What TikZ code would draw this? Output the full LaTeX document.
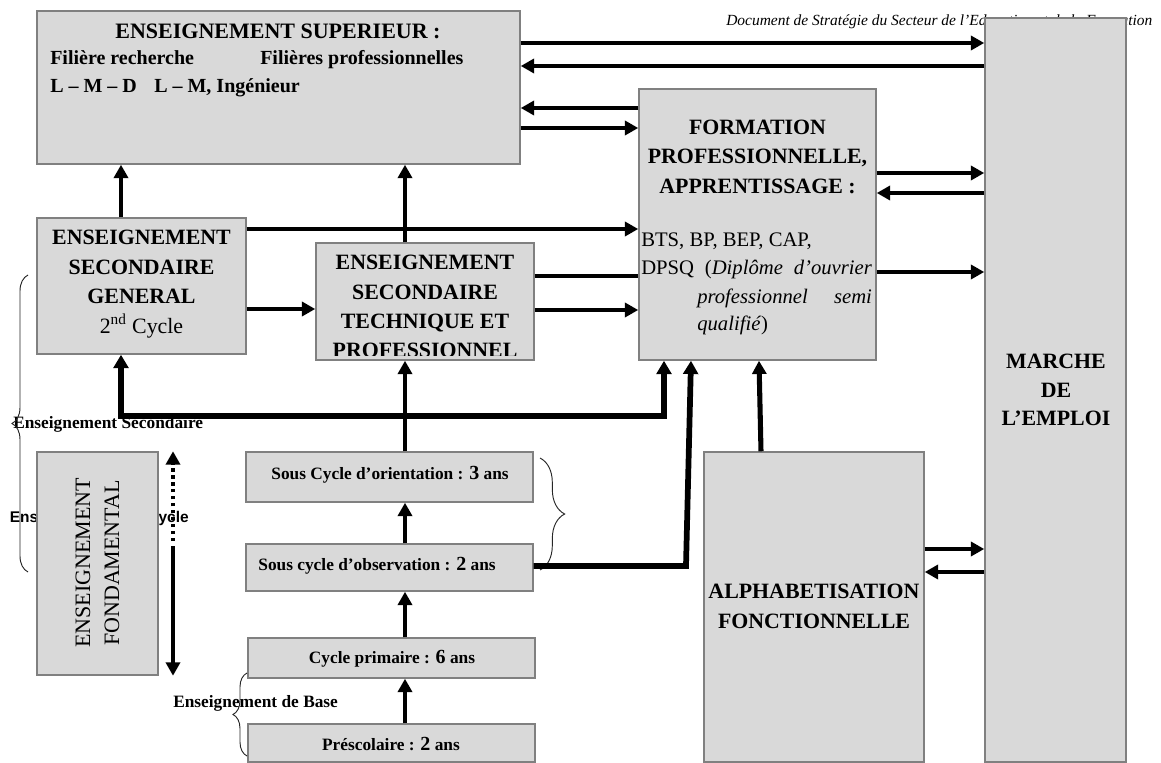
\documentclass[tikz,border=0pt]{standalone}
\usepackage{fontspec}
\setmainfont{Liberation Serif}
\newfontfamily\sansfam{Liberation Sans}
\usetikzlibrary{arrows.meta,fit,decorations.pathreplacing}
\definecolor{boxfill}{HTML}{D9D9D9}
\definecolor{boxline}{HTML}{808080}
\newcommand\fHead{\fontsize{16.4}{20}\selectfont\bfseries}
\newcommand\fSub{\fontsize{15}{18}\selectfont\bfseries}
\newcommand\fReg{\fontsize{15.5}{18}\selectfont}
\newcommand\fSmall{\fontsize{13}{16}\selectfont\bfseries}
\newcommand\dig[1]{{\fontsize{15}{18}\selectfont #1}}
\begin{document}
\begin{tikzpicture}[x=0.75pt,y=-0.75pt,
  box/.style={draw=boxline,fill=boxfill,line width=1.1pt,inner sep=0pt},
  arr/.style={line width=3.3pt,-{Triangle[length=10pt,width=10.5pt]}},
  bigarr/.style={line width=4.3pt,-{Triangle[length=10pt,width=11pt]}},
  plainline/.style={line width=3.3pt},
  brc/.style={decorate,draw=black!85,line width=0.7pt},
  lbl/.style={inner sep=0pt,anchor=base},
  lblw/.style={inner sep=0pt,anchor=base west}]
\useasboundingbox (0,0) rectangle (1161,763);

% header (partly hidden by the box)
\node[lblw,font=\fontsize{11.6}{14}\selectfont\itshape] (hdr) at (726,26)
  {Document de Stratégie du Secteur de l’Education et de la Formation};

% hidden label behind the fondamental box
\node[inner sep=0pt,anchor=base east,font=\fontsize{11.6}{14}\selectfont\sansfam\bfseries] (cyc) at (189,522) {Enseignement 1er Cycle};

% boxes
\node[box,fit={(985,18)(1126,762)}] (marche) {};
\node[box,fit={(37,11)(520,164)}] (es) {};
\node[box,fit={(639,89)(876,360)}] (form) {};
\node[box,fit={(37,218)(246,354)}] (esg) {};
\node[box,fit={(316,243)(534,360)}] (estp) {};
\node[box,fit={(37,452)(158,675)}] (fond) {};
\node[box,fit={(246,452)(533,502)}] (orient) {};
\node[box,fit={(246,544)(533,591)}] (obs) {};
\node[box,fit={(248,638)(535,678)}] (prim) {};
\node[box,fit={(248,724)(535,762)}] (presc) {};
\node[box,fit={(704,452)(924,762)}] (alpha) {};

% texts: enseignement superieur
\node[lbl,font=\fontsize{16.5}{20}\selectfont\bfseries] (es1) at (278,39) {ENSEIGNEMENT SUPERIEUR :};
\node[lblw,font=\fSub] (es2) at (50,65) {Filière recherche};
\node[lblw,font=\fSub] (es3) at (260,65) {Filières professionnelles};
\node[lblw,font=\fSub] (es4) at (50,93) {L – M – D};
\node[lblw,font=\fSub] (es5) at (154,93) {L – M, Ingénieur};

% secondaire general
\node[lbl,font=\fHead] (g1) at (141.5,245) {ENSEIGNEMENT};
\node[lbl,font=\fHead] (g2) at (141.5,275) {SECONDAIRE};
\node[lbl,font=\fHead] (g3) at (141.5,304) {GENERAL};
\node[lbl,font=\fontsize{16.4}{20}\selectfont] (g4) at (141.5,333) {2\textsuperscript{nd} Cycle};

% secondaire technique (last line clipped)
\begin{scope}
\clip (316,243) rectangle (534,355);
\node[lbl,font=\fHead] (p1) at (425,270) {ENSEIGNEMENT};
\node[lbl,font=\fHead] (p2) at (425,300) {SECONDAIRE};
\node[lbl,font=\fHead] (p3) at (425,328) {TECHNIQUE ET};
\node[lbl,font=\fHead] (p4) at (425,357) {PROFESSIONNEL};
\end{scope}

% formation professionnelle
\node[lbl,font=\fHead] (f1) at (757.5,135) {FORMATION};
\node[lbl,font=\fHead] (f2) at (757.5,164) {PROFESSIONNELLE,};
\node[lbl,font=\fHead] (f3) at (757.5,194) {APPRENTISSAGE :};
\node[lblw,font=\fReg] (f4) at (641,247) {BTS, BP, BEP, CAP,};
\node[lblw,font=\fReg] (f5) at (641,275) {\makebox[173pt][s]{DPSQ (\textit{Diplôme d’ouvrier}}};
\node[lblw,font=\fReg] (f6) at (697,303) {\makebox[131pt][s]{\textit{professionnel semi}}};
\node[lblw,font=\fReg] (f7) at (697,330) {\textit{qualifié})};

% marche
\node[lbl,font=\fHead] (m1) at (1056,368) {MARCHE};
\node[lbl,font=\fHead] (m2) at (1056,397) {DE};
\node[lbl,font=\fHead] (m3) at (1056,425) {L’EMPLOI};

% alphabetisation
\node[lbl,font=\fHead] (a1) at (814,598) {ALPHABETISATION};
\node[lbl,font=\fHead] (a2) at (814,628) {FONCTIONNELLE};

% fondamental (rotated)
\node[lbl,rotate=90,font=\fontsize{16.5}{20}\selectfont] (fd1) at (90,563) {ENSEIGNEMENT};
\node[lbl,rotate=90,font=\fontsize{16.5}{20}\selectfont] (fd2) at (119,563) {FONDAMENTAL};

% cycles
\node[lbl,font=\fSmall] (c1) at (390,479) {Sous Cycle d’orientation : \dig{3} ans};
\node[lbl,font=\fSmall] (c2) at (377,570) {Sous cycle d’observation : \dig{2} ans};
\node[lbl,font=\fSmall] (c3) at (392,663) {Cycle primaire : \dig{6} ans};
\node[lbl,font=\fSmall] (c4) at (391,750) {Préscolaire : \dig{2} ans};

% labels with braces
\node[lblw,font=\fSmall] (lsec) at (13,428) {Enseignement Secondaire};
\node[lblw,font=\fSmall] (lbase) at (173,707) {Enseignement de Base};
\draw[brc,decoration={brace,amplitude=12pt}] (28,572) -- (28,275);
\draw[brc,decoration={brace,amplitude=10.5pt}] (247,756) -- (247,673);
\draw[brc,decoration={brace,amplitude=18.5pt}] (540,458) -- (540,570);

% double arrow next to fondamental
\draw[line width=3.5pt,dash pattern=on 2.6pt off 2.6pt,-{Triangle[length=10pt,width=10.5pt]}] (173,541) -- (fond.north -| 173,0);
\draw[line width=3.5pt,-{Triangle[length=10pt,width=10.5pt]}] (173,546) -- (fond.south -| 173,0);

% connectors: superieur / marche / formation
\draw[arr] (es.east |- 0,43) -- (marche.west |- 0,43);
\draw[arr] (marche.west |- 0,66) -- (es.east |- 0,66);
\draw[arr] (form.west |- 0,108) -- (es.east |- 0,108);
\draw[arr] (es.east |- 0,128) -- (form.west |- 0,128);
\draw[arr] (form.east |- 0,173) -- (marche.west |- 0,173);
\draw[arr] (marche.west |- 0,193) -- (form.east |- 0,193);
\draw[arr] (form.east |- 0,272) -- (marche.west |- 0,272);

% secondaire -> superieur
\draw[arr] (esg.north -| 121,0) -- (es.south -| 121,0);
\draw[arr] (estp.north -| 405,0) -- (es.south -| 405,0);
\draw[arr] (esg.east |- 0,229) -- (form.west |- 0,229);
\draw[arr] (esg.east |- 0,309) -- (estp.west |- 0,309);
\draw[plainline] (estp.east |- 0,276) -- (form.west |- 0,276);
\draw[arr] (estp.east |- 0,310) -- (form.west |- 0,310);

% loop from orientation level
\draw[line width=4.3pt,{Triangle[length=10pt,width=11pt]}-{Triangle[length=10pt,width=11pt]}]
  (esg.south -| 121,0) -- (121,416) -- (664,416) -- (form.south -| 664,0);

% vertical chain
\draw[arr] (orient.north -| 405,0) -- (estp.south -| 405,0);
\draw[arr] (obs.north -| 405,0) -- (orient.south -| 405,0);
\draw[arr] (prim.north -| 405,0) -- (obs.south -| 405,0);
\draw[arr] (presc.north -| 405,0) -- (prim.south -| 405,0);

% observation -> formation
\draw[bigarr] (obs.east |- 0,566) -- (686,566) -- (form.south -| 691,0);
% alphabetisation -> formation
\draw[line width=3.8pt,-{Triangle[length=10pt,width=10.5pt]}] (alpha.north -| 761,0) -- (form.south -| 759,0);
% alphabetisation <-> marche
\draw[arr] (alpha.east |- 0,549) -- (marche.west |- 0,549);
\draw[arr] (marche.west |- 0,572) -- (alpha.east |- 0,572);
\end{tikzpicture}
\end{document}
